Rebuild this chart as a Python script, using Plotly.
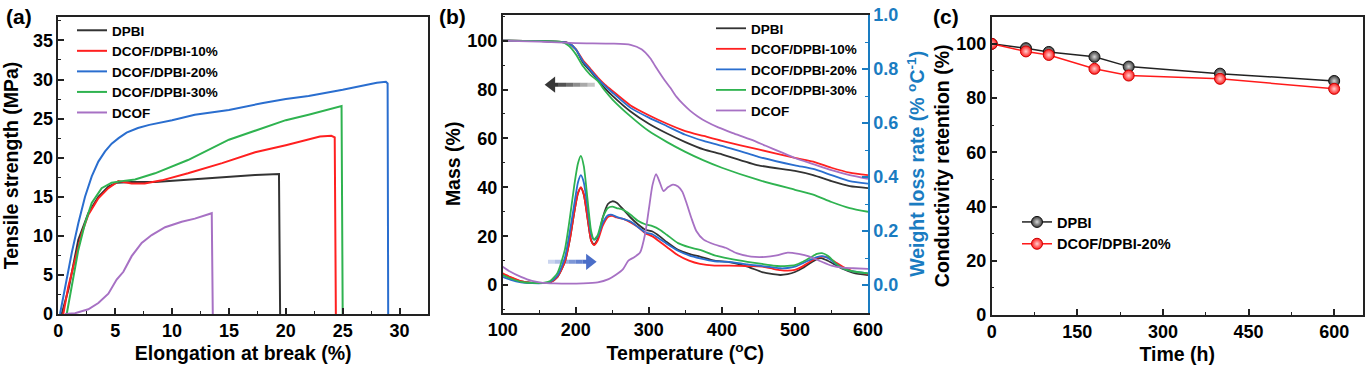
import plotly.graph_objects as go

# ---------------- Panel (a): tensile curves ----------------
a_dpbi_x = [0.3, 0.9, 1.76, 2.64, 3.52, 4.4, 5.13, 6.5, 8.5, 11.4, 14.4, 17.3, 19.4, 19.5]
a_dpbi_y = [0, 3.2, 9.5, 12.9, 15.0, 16.3, 16.8, 16.9, 16.9, 17.2, 17.5, 17.8, 17.9, 0]
a_10_x = [0.44, 0.88, 1.47, 2.06, 2.64, 3.52, 4.4, 5.28, 6.45, 7.6, 9.1, 11.4, 14.4, 17.3, 20, 22, 23, 24, 24.3, 24.4]
a_10_y = [0, 3.5, 6.9, 10.3, 12.7, 14.8, 16.1, 17.0, 16.7, 16.7, 17.1, 18.0, 19.3, 20.7, 21.6, 22.4, 22.7, 22.8, 22.6, 0]
a_20_x = [0.15, 0.59, 1.18, 1.76, 2.35, 2.94, 3.52, 4.11, 4.69, 5.3, 6, 7, 8, 10, 12, 15, 18, 20, 22, 25, 27, 28, 28.8, 28.95, 29.0]
a_20_y = [0, 3.5, 7.8, 11.6, 15, 17.6, 19.5, 20.8, 21.8, 22.5, 23.2, 23.8, 24.2, 24.8, 25.5, 26.1, 27.0, 27.5, 27.9, 28.7, 29.3, 29.6, 29.7, 29.5, 0]
a_30_x = [0.74, 1.18, 1.76, 2.35, 2.94, 3.81, 4.69, 5.57, 6.75, 8.5, 11.4, 15, 18, 20, 22, 24, 24.5, 24.9, 25.0]
a_30_y = [0, 3.5, 8.2, 11.6, 14.2, 16.1, 16.8, 17.0, 17.2, 18.0, 19.7, 22.3, 23.8, 24.8, 25.5, 26.3, 26.5, 26.6, 0]
a_dcof_x = [0.59, 1.47, 2.64, 3.52, 4.4, 5.13, 5.72, 6.45, 7.33, 8.21, 9.39, 10.85, 12.0, 13.49, 13.58]
a_dcof_y = [0, 0.1, 0.6, 1.4, 2.6, 4.4, 5.4, 7.4, 9.1, 10.1, 11.1, 11.8, 12.2, 12.9, 0]

# ---------------- Panel (b): TGA mass ----------------
mass_T = [100, 150, 180, 190, 200, 210, 220, 230, 240, 250, 275, 300, 325, 350, 375, 400, 450, 500, 525, 550, 575, 600]
mass_dpbi = [100, 99.8, 99.5, 99, 96.5, 91, 87.5, 84, 80.5, 77.5, 71, 66, 62, 58.5, 55.5, 53.5, 49, 46.7, 45, 42.5, 40.5, 39.7]
mass_10 = [100, 99.8, 99.5, 99, 96.5, 92, 88.5, 85, 82, 79.5, 73.5, 69.5, 66, 63, 61, 59, 55.5, 52, 50.5, 48, 46, 45]
mass_20 = [100, 99.8, 99.5, 99, 96.5, 91.5, 88, 84.5, 81.5, 78.8, 72.5, 68.5, 65, 61.5, 59, 57, 52.5, 49, 47.5, 45, 42.5, 41.5]
mass_30 = [100, 99.8, 99.5, 98, 94.5, 89.5, 86, 83.5, 79.5, 76, 69, 63, 58.5, 54.5, 51, 48, 43, 39, 37, 34, 31.5, 30]
mass_dcof_T = [100, 150, 200, 250, 275, 290, 302, 310, 320, 330, 338, 347, 356, 367, 379, 395, 415, 440, 460, 480, 500, 525, 550, 575, 600]
mass_dcof = [100, 99.6, 99, 98.8, 98.3, 96.5, 92.8, 89, 84.5, 80.5, 77, 74, 71.5, 69, 66.8, 64.5, 62.2, 59.5, 57, 54.5, 52, 49.5, 47, 45, 43.5]

# ---------------- Panel (b): DTG weight loss rate ----------------
dtg_T = [100, 110, 125, 140, 155, 165, 175, 185, 192, 198, 203, 207, 211, 216, 221, 225, 230, 237, 244, 250,
         256, 265, 275, 285, 295, 305, 315, 325, 340, 355, 370, 390, 410, 435, 455, 470, 480, 490, 500, 510,
         520, 530, 537, 545, 555, 565, 580, 600]
dtg_dpbi = [0.04, 0.028, 0.013, 0.008, 0.007, 0.01, 0.03, 0.085, 0.17, 0.27, 0.34, 0.36, 0.335, 0.25, 0.165, 0.15, 0.17, 0.25, 0.3, 0.31,
            0.305, 0.28, 0.25, 0.225, 0.205, 0.198, 0.18, 0.158, 0.13, 0.115, 0.105, 0.09, 0.085, 0.068, 0.048, 0.04, 0.037, 0.04, 0.048, 0.062,
            0.08, 0.096, 0.099, 0.09, 0.075, 0.06, 0.045, 0.037]
dtg_10 = [0.043, 0.03, 0.014, 0.008, 0.007, 0.01, 0.03, 0.085, 0.17, 0.27, 0.34, 0.362, 0.335, 0.25, 0.165, 0.148, 0.165, 0.22, 0.252, 0.256,
          0.25, 0.245, 0.232, 0.215, 0.192, 0.18, 0.16, 0.14, 0.11, 0.09, 0.078, 0.072, 0.072, 0.07, 0.068, 0.06, 0.055, 0.053, 0.056, 0.068,
          0.085, 0.1, 0.105, 0.102, 0.085, 0.068, 0.05, 0.041]
dtg_20 = [0.03, 0.02, 0.01, 0.007, 0.007, 0.012, 0.035, 0.1, 0.2, 0.3, 0.38, 0.407, 0.38, 0.29, 0.19, 0.168, 0.18, 0.23, 0.258, 0.26,
          0.252, 0.245, 0.235, 0.215, 0.195, 0.188, 0.17, 0.152, 0.127, 0.11, 0.099, 0.088, 0.086, 0.076, 0.07, 0.065, 0.062, 0.063, 0.068, 0.08,
          0.092, 0.103, 0.107, 0.1, 0.08, 0.062, 0.05, 0.043]
dtg_30 = [0.037, 0.025, 0.012, 0.008, 0.008, 0.015, 0.045, 0.13, 0.25, 0.37, 0.45, 0.478, 0.44, 0.32, 0.2, 0.168, 0.185, 0.25, 0.285, 0.29,
          0.285, 0.278, 0.26, 0.238, 0.225, 0.218, 0.205, 0.185, 0.155, 0.14, 0.13, 0.11, 0.098, 0.086, 0.078, 0.072, 0.07, 0.071, 0.074, 0.085,
          0.1, 0.115, 0.118, 0.108, 0.082, 0.062, 0.05, 0.043]
dtg_dcof_T = [100, 110, 125, 140, 155, 170, 190, 210, 230, 245, 255, 265, 272, 280, 288, 295, 300, 305, 310, 315, 320, 326,
              333, 340, 346, 352, 358, 365, 375, 390, 405, 420, 440, 460, 475, 490, 505, 520, 535, 550, 565, 580, 600]
dtg_dcof = [0.068, 0.05, 0.03, 0.015, 0.008, 0.006, 0.005, 0.006, 0.01, 0.022, 0.038, 0.06, 0.09, 0.103, 0.12, 0.19, 0.28, 0.37, 0.411, 0.38, 0.348, 0.362,
            0.372, 0.365, 0.345, 0.3, 0.25, 0.2, 0.168, 0.15, 0.138, 0.118, 0.105, 0.104, 0.11, 0.12, 0.115, 0.105, 0.088, 0.072, 0.064, 0.062, 0.06]

# ---------------- Panel (c): conductivity retention ----------------
time_h = [0, 60, 100, 180, 240, 400, 600]
ret_dpbi = [100, 98.4, 97, 95.2, 91.6, 89, 86.3]
ret_20 = [100, 97.2, 95.9, 90.8, 88.3, 87.1, 83.4]

# arrow guides in panel (b): (tail T, head T, level in mass units)
arrow_mass = [226, 167, 82]
arrow_rate = [162, 219, 9.5]

names = ["DPBI", "DCOF/DPBI-10%", "DCOF/DPBI-20%", "DCOF/DPBI-30%", "DCOF"]
colors = ["#333333", "#ff2020", "#2a6ecf", "#2fb350", "#a771c4"]
BLUE_AX = "#1a7cc1"
FONT = "Liberation Sans, Arial, sans-serif"
W, H = 1367, 367

fig = go.Figure()

# panel (a)
for xs, ys, nm, c in zip([a_dpbi_x, a_10_x, a_20_x, a_30_x, a_dcof_x],
                         [a_dpbi_y, a_10_y, a_20_y, a_30_y, a_dcof_y], names, colors):
    fig.add_trace(go.Scatter(x=xs, y=ys, mode="lines", name=nm, line=dict(color=c, width=2),
                             xaxis="x", yaxis="y", legend="legend"))

# panel (b) mass
for xs, ys, nm, c in zip([mass_T, mass_T, mass_T, mass_T, mass_dcof_T],
                         [mass_dpbi, mass_10, mass_20, mass_30, mass_dcof], names, colors):
    fig.add_trace(go.Scatter(x=xs, y=ys, mode="lines", name=nm, line=dict(color=c, width=1.8, shape="spline", smoothing=0.6),
                             xaxis="x2", yaxis="y2", legend="legend2"))
# panel (b) DTG
for xs, ys, nm, c in zip([dtg_T, dtg_T, dtg_T, dtg_T, dtg_dcof_T],
                         [dtg_dpbi, dtg_10, dtg_20, dtg_30, dtg_dcof], names, colors):
    fig.add_trace(go.Scatter(x=xs, y=ys, mode="lines", name=nm, line=dict(color=c, width=1.8, shape="spline", smoothing=0.6),
                             xaxis="x2", yaxis="y3", showlegend=False))


# arrows: faded shaft segments + triangle head
def add_arrow(tail, head, level, rgb, symbol):
    n = 6
    for i in range(n):
        t0 = tail + (head - tail) * i / n
        t1 = tail + (head - tail) * (i + 1) / n
        op = 0.15 + 0.85 * (i + 1) / n
        fig.add_trace(go.Scatter(x=[t0, t1], y=[level, level], mode="lines", showlegend=False, hoverinfo="skip",
                                 line=dict(color="rgba(%d,%d,%d,%.2f)" % (rgb + (op,)), width=4),
                                 xaxis="x2", yaxis="y2"))
    fig.add_trace(go.Scatter(x=[head], y=[level], mode="markers", showlegend=False, hoverinfo="skip",
                             marker=dict(symbol=symbol, size=14, color="rgb(%d,%d,%d)" % rgb),
                             xaxis="x2", yaxis="y2"))


add_arrow(arrow_mass[0], arrow_mass[1], arrow_mass[2], (55, 55, 55), "triangle-left")
add_arrow(arrow_rate[0], arrow_rate[1], arrow_rate[2], (75, 110, 200), "triangle-right")

# panel (c)
fig.add_trace(go.Scatter(x=time_h, y=ret_dpbi, mode="lines+markers", name="DPBI",
                         line=dict(color="#222222", width=1.5),
                         marker=dict(size=11, color="#3a3a3a", line=dict(color="#111111", width=1),
                                     gradient=dict(type="radial", color="#d8d8d8")),
                         xaxis="x3", yaxis="y4", legend="legend3"))
fig.add_trace(go.Scatter(x=time_h, y=ret_20, mode="lines+markers", name="DCOF/DPBI-20%",
                         line=dict(color="#ff1a1a", width=1.5),
                         marker=dict(size=11, color="#ff1a1a", line=dict(color="#cc0000", width=1),
                                     gradient=dict(type="radial", color="#ffd0d0")),
                         xaxis="x3", yaxis="y4", legend="legend3"))

tickfont = dict(family=FONT, size=18, color="black", weight="bold")
titlefont = dict(family=FONT, size=19.5, color="black", weight="bold")
legfont = dict(family=FONT, size=13.5, color="black", weight="bold")


def ax(domain, rng, dtick, minor_dtick, title, anchor, standoff, **kw):
    d = dict(domain=domain, range=rng, dtick=dtick, tick0=0, anchor=anchor, automargin=False,
             showline=True, linecolor="#222222", linewidth=1.5, showgrid=False, zeroline=False,
             ticks="inside", ticklen=6, tickwidth=1.5, tickcolor="#222222",
             minor=dict(ticks="inside", ticklen=3, dtick=minor_dtick, tick0=0, tickcolor="#222222", tickwidth=1.2),
             tickfont=tickfont, title=dict(text=title, font=titlefont, standoff=standoff))
    d.update(kw)
    return d


def fx(px):
    return px / W


def fy(px):
    return 1 - px / H


fig.update_layout(
    width=W, height=H, margin=dict(l=0, r=0, t=0, b=0),
    paper_bgcolor="white", plot_bgcolor="white",
    xaxis=ax([fx(58.3), fx(428)], [0, 32.5], 5, 2.5, "Elongation at break (%)", "y", 6, mirror=True),
    yaxis=ax([fy(314), fy(17)], [0, 38], 5, 2.5, "Tensile strength (MPa)", "x", 10, mirror=True),
    xaxis2=ax([fx(502.7), fx(868)], [100, 600], 100, 50, "Temperature (<sup>o</sup>C)", "y2", 6, mirror=True),
    yaxis2=ax([fy(312.7), fy(15)], [-11.3, 110.5], 20, 10, "Mass (%)", "x2", 1),
    yaxis3=ax([fy(312.7), fy(15)], [-0.1026, 1.0], 0.2, 0.1, "Weight loss rate (% <sup>o</sup>C<sup>-1</sup>)", "x2", 13,
              overlaying="y2", side="right", linecolor=BLUE_AX, tickcolor=BLUE_AX, tickformat=".1f",
              tickfont=dict(family=FONT, size=18, color=BLUE_AX, weight="bold"),
              minor=dict(ticks="inside", ticklen=3, dtick=0.1, tick0=0, tickcolor=BLUE_AX, tickwidth=1.2)),
    xaxis3=ax([fx(991.7), fx(1362.7)], [0, 650], 150, 75, "Time (h)", "y4", 6, mirror=True),
    yaxis4=ax([fy(315), fy(16.7)], [0, 110], 20, 10, "Conductivity retention (%)", "x3", 1, mirror=True),
    legend=dict(x=fx(72), y=fy(15), xanchor="left", yanchor="top", bgcolor="rgba(0,0,0,0)",
                font=legfont, itemwidth=30, tracegroupgap=0),
    legend2=dict(x=fx(711), y=fy(13), xanchor="left", yanchor="top", bgcolor="rgba(0,0,0,0)",
                 font=legfont, itemwidth=30, tracegroupgap=0),
    legend3=dict(x=fx(1017), y=fy(206), xanchor="left", yanchor="top", bgcolor="rgba(0,0,0,0)",
                 font=dict(family=FONT, size=14.5, color="black", weight="bold"), itemwidth=30, tracegroupgap=0),
    showlegend=True,
)

fig.layout.yaxis3.title.font = dict(family=FONT, size=19.5, color=BLUE_AX, weight="bold")

# Panel labels
for txt, x in [("(a)", 4), ("(b)", 437), ("(c)", 931)]:
    fig.add_annotation(text=txt, x=fx(x), y=fy(3), xref="paper", yref="paper", xanchor="left", yanchor="top",
                       showarrow=False, font=dict(family=FONT, size=21, color="black", weight="bold"))

fig.write_html("out.html", config={"displayModeBar": False},
               post_script="document.body.style.margin='0px';document.body.style.padding='0px';")
